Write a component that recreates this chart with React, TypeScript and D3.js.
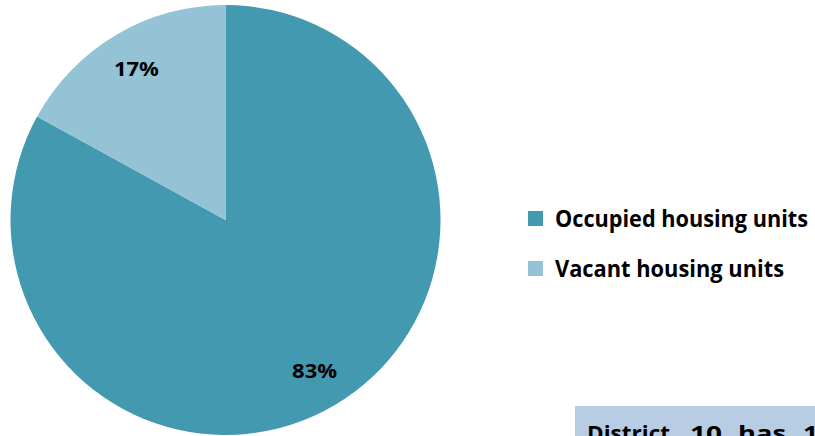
import React from "react";
import * as d3 from "d3";

const categories = ["Occupied housing units", "Vacant housing units"];
const values = [83, 17];
const colors = ["#4399B0", "#93C3D5"];
const noteWords = ["District", "10", "has", "15"];

const W = 815;
const H = 436;
const FONT = "'Open Sans', 'Noto Sans', sans-serif";

export default function App() {
  const cx = 225.5;
  const cy = 220;
  const r = 215;
  const pie = d3.pie<number>().sort(null).value((d) => d)(values);
  const arc = d3.arc<d3.PieArcDatum<number>>().innerRadius(0).outerRadius(r);
  const labelArc = d3.arc<d3.PieArcDatum<number>>().innerRadius(175).outerRadius(175);
  const total = d3.sum(values);
  const legendY = d3.scaleBand<string>().domain(categories).range([203, 303]);
  const legendW = [253, 229];
  const noteX = [587, 690, 738, 803];
  const noteL = [83, 32, 48, 30];

  return (
    <div style={{ position: "fixed", left: 0, top: 0, width: W, height: H, background: "#fff" }}>
      <svg width={W} height={H} style={{ display: "block" }}>
        <g transform={`translate(${cx},${cy})`}>
          {pie.map((p, i) => (
            <path key={i} d={arc(p) || ""} fill={colors[i]} />
          ))}
          {pie.map((p, i) => {
            const [x, y] = labelArc.centroid(p);
            return (
              <text
                key={"l" + i}
                x={x}
                y={y + 7}
                textAnchor="middle"
                fontFamily={FONT}
                fontWeight="bold"
                fontSize={20}
                fill="#000"
                textLength={45}
                lengthAdjust="spacingAndGlyphs"
              >
                {Math.round((values[i] / total) * 100) + "%"}
              </text>
            );
          })}
        </g>
        {categories.map((c, i) => {
          const y = legendY(c)!;
          return (
            <g key={c}>
              <rect x={528} y={y + 8} width={15} height={15} fill={colors[i]} />
              <text
                x={555}
                y={y + 24}
                fontFamily={FONT}
                fontWeight="bold"
                fontSize={22.5}
                fill="#000"
                textLength={legendW[i]}
                lengthAdjust="spacingAndGlyphs"
              >
                {c}
              </text>
            </g>
          );
        })}
        <rect x={575} y={406} width={W - 575} height={H - 406} fill="#B8CCE4" />
        {noteWords.map((w, i) => (
          <text
            key={w + i}
            x={noteX[i]}
            y={441}
            fontFamily={FONT}
            fontWeight="bold"
            fontSize={22}
            fill="#000"
            textLength={noteL[i]}
            lengthAdjust="spacingAndGlyphs"
          >
            {w}
          </text>
        ))}
      </svg>
    </div>
  );
}
